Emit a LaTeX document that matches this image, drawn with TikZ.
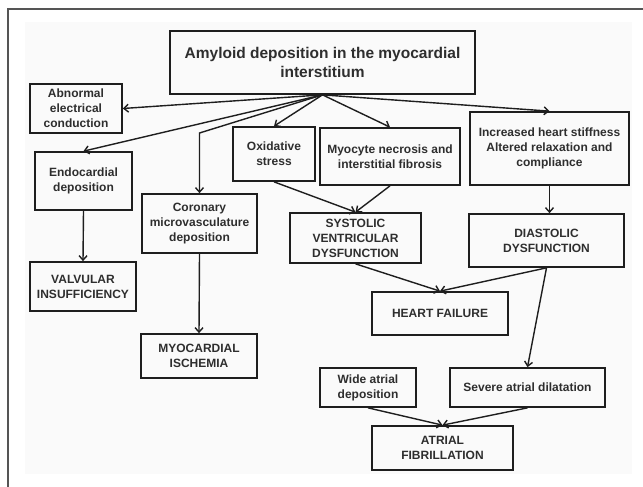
\documentclass[tikz,border=0pt]{standalone}
\usepackage{fontspec}
\setmainfont{Liberation Sans}
\usetikzlibrary{arrows.meta}
\definecolor{txt}{HTML}{2E2E2E}
\definecolor{ln}{HTML}{1E1E1E}
\definecolor{frm}{HTML}{555555}
\definecolor{bg}{HTML}{FAFAFA}
\begin{document}
\begin{tikzpicture}[x=1pt,y=-1pt,
  box/.style={draw=ln, line width=1.7pt, align=center, inner sep=0pt, text=txt,
              font=\bfseries\fontsize{12}{15}\selectfont},
  arr/.style={draw=ln, line width=1.4pt, -{Straight Barb[length=4.5pt,width=8pt]}}]
\useasboundingbox (0,0) rectangle (643,487);
\fill[white] (0,0) rectangle (643,487);
\fill[bg] (25,22) rectangle (632,474);
\draw[frm, line width=1.5pt] (8,487) -- (8,9) -- (643,9);

\node[box, minimum width=305pt, minimum height=63pt, font=\bfseries\fontsize{15.5}{19}\selectfont] (amy) at (322.5,62.5) {Amyloid deposition in the myocardial\\interstitium};
\node[box, minimum width=92pt, minimum height=49pt] (abn) at (76,108.5) {Abnormal\\electrical\\conduction};
\node[box, minimum width=97pt, minimum height=58pt] (endo) at (83.5,181) {Endocardial\\deposition};
\node[box, minimum width=106pt, minimum height=49pt] (valv) at (83,286.5) {VALVULAR\\INSUFFICIENCY};
\node[box, minimum width=115pt, minimum height=59pt] (cor) at (199.5,223.5) {Coronary\\microvasculature\\deposition};
\node[box, minimum width=116pt, minimum height=44pt] (isch) at (199,356) {MYOCARDIAL\\ISCHEMIA};
\node[box, minimum width=82pt, minimum height=54pt] (oxi) at (274,154) {Oxidative\\stress};
\node[box, minimum width=140pt, minimum height=57pt] (myo) at (390,156.5) {Myocyte necrosis and\\interstitial fibrosis};
\node[box, minimum width=159pt, minimum height=73pt] (inc) at (549.5,148.5) {Increased heart stiffness\\Altered relaxation and\\compliance};
\node[box, minimum width=131pt, minimum height=50pt] (sys) at (355.5,238) {SYSTOLIC\\VENTRICULAR\\DYSFUNCTION};
\node[box, minimum width=155pt, minimum height=53pt] (dia) at (546.5,240.5) {DIASTOLIC\\DYSFUNCTION};
\node[box, minimum width=136pt, minimum height=43pt] (hf) at (440,313.5) {HEART FAILURE};
\node[box, minimum width=96pt, minimum height=39pt] (wide) at (368,387.5) {Wide atrial\\deposition};
\node[box, minimum width=155pt, minimum height=39pt] (sev) at (527.5,387.5) {Severe atrial dilatation};
\node[box, minimum width=141pt, minimum height=44pt] (af) at (442.5,448) {ATRIAL\\FIBRILLATION};

\coordinate (ck) at (199.5,133);

\draw[arr] (amy.south) -- (abn.east);
\draw[arr] (amy.south) -- (endo.north);
\draw[arr] (amy.south) -- (ck) -- (cor.north);
\draw[arr] (amy.south) -- (oxi.north);
\draw[arr] (amy.south) -- (myo.north);
\draw[arr] (amy.south) -- (inc.north);
\draw[arr] (endo.south) -- (valv.north);
\draw[arr] (cor.south) -- (isch.north);
\draw[arr] (oxi.south) -- (sys.north);
\draw[arr] (myo.south) -- (sys.north);
\draw[arr] (inc.south) -- (inc.south |- dia.north);
\draw[arr] (sys.south) -- (hf.north);
\draw[arr] (dia.south) -- (hf.north);
\draw[arr] (dia.south) -- (sev.north);
\draw[arr] (wide.south) -- (af.north);
\draw[arr] (sev.south) -- (af.north);
\end{tikzpicture}
\end{document}
